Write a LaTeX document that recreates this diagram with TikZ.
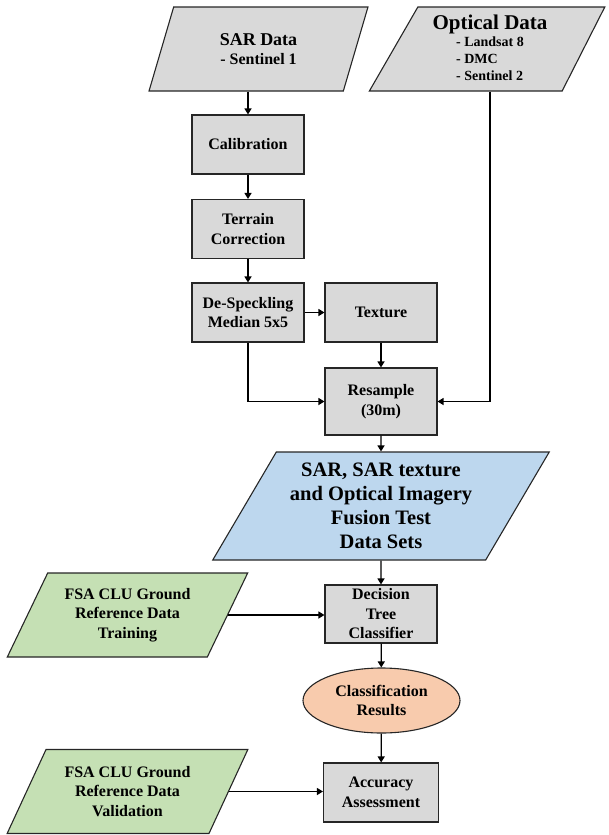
\documentclass[tikz,border=0pt]{standalone}
\usepackage{fontspec}
\setmainfont{Liberation Serif}
\usetikzlibrary{shapes.geometric,arrows.meta}
\definecolor{boxgray}{HTML}{D9D9D9}
\definecolor{fuseblue}{HTML}{BDD7EE}
\definecolor{refgreen}{HTML}{C5E0B4}
\definecolor{resultpeach}{HTML}{F8CBAD}
\tikzstyle{every node}=[align=center,font=\fontsize{16}{19.5}\selectfont\bfseries]
\tikzstyle{process}=[draw=black!85,line width=1.1pt,fill=boxgray,minimum width=112pt,minimum height=59pt,inner sep=2pt]
\tikzstyle{dataset}=[draw=black!85,line width=1.1pt,trapezium,trapezium stretches=true,inner sep=2pt]
\tikzstyle{flow}=[line width=1.3pt,-{Triangle[length=6pt,width=7pt]}]

\begin{document}
\begin{tikzpicture}[x=1pt,y=-1pt]
    \useasboundingbox (0,0) rectangle (609,835);
    % inputs
    \node[dataset,fill=boxgray,trapezium left angle=71.6,trapezium right angle=108.4,
        minimum width=219pt,minimum height=84pt] (sar) at (258.5,49)
        {\fontsize{18}{20}\selectfont SAR Data\\\fontsize{16}{20}\selectfont - Sentinel 1};
    \node[dataset,fill=boxgray,trapezium left angle=61,trapezium right angle=116,
        minimum width=236pt,minimum height=84pt] (optical) at (490,49)
        {\fontsize{21}{22}\selectfont Optical Data\\[0pt]
         \fontsize{14}{17}\selectfont\begin{tabular}{@{}l@{}}- Landsat 8\\- DMC\\- Sentinel 2\end{tabular}\\[-4pt]};
    % SAR processing chain
    \node[process] (calib) at (248,144.5) {Calibration};
    \node[process] (terrain) at (248,229) {Terrain\\Correction};
    \node[process] (despeck) at (248,312.5) {De-Speckling\\Median 5x5};
    \node[process] (texture) at (381,312.5) {Texture};
    \node[process,minimum height=67pt] (resample) at (381,401.5) {Resample\\(30m)};
    % fusion and classification
    \node[dataset,fill=fuseblue,trapezium left angle=57.8,trapezium right angle=122.2,
        minimum width=338pt,minimum height=108pt,font=\fontsize{20.5}{24}\selectfont\bfseries]
        (fusion) at (381,506) {SAR, SAR texture\\and Optical Imagery\\Fusion Test\\Data Sets};
    \node[process,minimum height=58pt] (decision) at (381,614) {Decision\\Tree\\Classifier};
    \node[draw=black!85,line width=1.1pt,ellipse,fill=resultpeach,minimum width=157pt,
        minimum height=65pt,inner sep=0pt] (result) at (381.5,700.5) {Classification\\Results};
    \node[process,minimum width=115pt] (accuracy) at (381,792.5) {Accuracy\\Assessment};
    % ground reference
    \node[dataset,fill=refgreen,trapezium left angle=60.3,trapezium right angle=119.7,
        minimum width=241pt,minimum height=84pt] (train) at (127.5,615)
        {FSA CLU Ground\\Reference Data\\Training};
    \node[dataset,fill=refgreen,trapezium left angle=60.3,trapezium right angle=119.7,
        minimum width=241pt,minimum height=84pt] (valid) at (127.5,791.5)
        {FSA CLU Ground\\Reference Data\\Validation};

    \draw[flow] (calib.north |- sar.south) -- (calib);
    \draw[flow] (calib) -- (terrain);
    \draw[flow] (terrain) -- (despeck);
    \draw[flow] (despeck) -- (texture);
    \draw[flow] (texture) -- (resample);
    \draw[flow] (despeck) |- (resample);
    \draw[flow] (optical.south) |- (resample.east);
    \draw[flow] (resample) -- (fusion);
    \draw[flow] (fusion) -- (decision);
    \draw[flow] (train.east) -- (decision.west |- train.east);
    \draw[flow] (decision) -- (result);
    \draw[flow] (result) -- (accuracy);
    \draw[flow] (valid.east) -- (accuracy.west |- valid.east);
\end{tikzpicture}
\end{document}
